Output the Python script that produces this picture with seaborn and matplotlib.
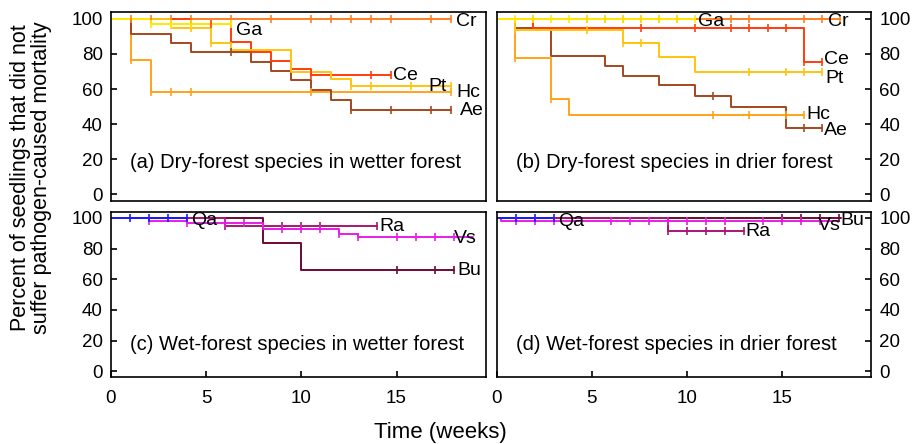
import numpy as np
import pandas as pd
import matplotlib
matplotlib.use('Agg')
import matplotlib.pyplot as plt
import seaborn as sns

# (a) especies de floresta seca na floresta mais umida
A_TEMPOS = {
    'Cr': [0, 17.85],
    'Hc': [0, 1.05, 2.1, 17.85],
    'Ae': [0, 1.05, 3.15, 4.2, 7.35, 8.4, 9.45, 10.5, 11.55, 12.6, 17.85],
    'Ce': [0, 4.2, 6.3, 7.35, 8.4, 9.45, 10.5, 14.7],
    'Pt': [0, 3.15, 5.25, 6.3, 9.45, 11.55, 12.6, 17.85],
    'Ga': [0, 2.1, 6.3],
}
A_SOBREV = {
    'Cr': [100, 100],
    'Hc': [100, 76.5, 58.1, 58.1],
    'Ae': [100, 91.1, 86.2, 81, 75.5, 70.1, 65, 59.2, 53.9, 48.2, 48.2],
    'Ce': [100, 97.2, 86.6, 81, 75.7, 71.6, 68.2, 68.2],
    'Pt': [100, 94.5, 86.2, 82.2, 69.7, 65.7, 61.5, 61.5],
    'Ga': [100, 97.2, 97.2],
}
A_CENS = {
    'Cr': [1.05, 2.1, 3.15, 4.2, 6.3, 8.4, 10.5, 11.55, 12.6, 13.65, 14.7, 16.8, 17.85],
    'Hc': [1.05, 2.1, 3.15, 4.2, 10.5, 17.85],
    'Ae': [6.3, 12.6, 14.7, 16.8, 17.85],
    'Ce': [4.2, 5.25, 10.5, 13.65, 14.7],
    'Pt': [4.2, 5.25, 12.6, 13.65, 15.75, 17.85],
    'Ga': [2.1, 3.15, 4.2, 6.3],
}

# (b) especies de floresta seca na floresta mais seca
B_TEMPOS = {
    'Cr': [0, 18.05],
    'Hc': [0, 0.95, 2.85, 3.8, 16.15],
    'Ae': [0, 0.95, 2.85, 5.7, 6.65, 8.55, 10.45, 12.35, 15.2, 17.1],
    'Ce': [0, 1.9, 16.15, 17.1],
    'Pt': [0, 0.95, 6.65, 8.55, 10.45, 17.1],
    'Ga': [0, 10.45],
}
B_SOBREV = {
    'Cr': [100, 100],
    'Hc': [100, 77.5, 54.4, 45.3, 45.3],
    'Ae': [100, 94.5, 79, 73.3, 67.6, 62, 56.1, 50, 37.7, 37.7],
    'Ce': [100, 94.5, 75.6, 75.6],
    'Pt': [100, 93.6, 86.4, 78, 69.5, 69.5],
    'Ga': [100, 100],
}
B_CENS = {
    'Cr': [1.9, 4.75, 5.7, 6.65, 7.6, 8.55, 9.5, 12.35, 13.3, 16.15, 17.1, 18.05],
    'Hc': [0.95, 2.85, 11.4, 13.3, 15.2, 16.15],
    'Ae': [11.4, 16.15, 17.1],
    'Ce': [7.6, 10.45, 12.35, 13.3, 14.25, 15.2, 16.15, 17.1],
    'Pt': [0.95, 4.75, 6.65, 7.6, 13.3, 15.2, 16.15, 17.1],
    'Ga': [0.95, 1.9, 2.85, 3.8, 4.75, 5.7, 6.65, 7.6, 8.55, 9.5, 10.45],
}

# (c) especies de floresta umida na floresta mais umida
C_TEMPOS = {
    'Bu': [0, 8, 10, 18],
    'Ra': [0, 6, 14],
    'Vs': [0, 2, 4, 8, 12, 13, 19],
    'Qa': [0, 4],
}
C_SOBREV = {
    'Bu': [100, 83.5, 66.3, 66.3],
    'Ra': [100, 94.8, 94.8],
    'Vs': [100, 98.2, 96.5, 92.8, 89.6, 87.4, 87.4],
    'Qa': [100, 100],
}
C_CENS = {
    'Bu': [15, 17, 18],
    'Ra': [6, 9, 10, 11, 14],
    'Vs': [2, 4, 6, 7, 9, 10, 11, 12, 13, 15, 16, 17, 18],
    'Qa': [1, 2, 3, 4],
}

# (d) especies de floresta umida na floresta mais seca
D_TEMPOS = {
    'Bu': [0, 18.1],
    'Ra': [0, 9, 13],
    'Vs': [0, 0.2, 18],
    'Qa': [0, 3],
}
D_SOBREV = {
    'Bu': [100, 100],
    'Ra': [100, 91.7, 91.7],
    'Vs': [100, 98.2, 98.2],
    'Qa': [100, 100],
}
D_CENS = {
    'Bu': [15, 16, 17, 18],
    'Ra': [9, 10, 11, 12, 13],
    'Vs': [1, 2, 3, 6, 7, 8, 9, 10, 11, 12, 14, 15, 16, 17],
    'Qa': [1, 2, 3],
}

TITULOS = ['(a) Dry-forest species in wetter forest',
           '(b) Dry-forest species in drier forest',
           '(c) Wet-forest species in wetter forest',
           '(d) Wet-forest species in drier forest']

CORES = {
    'Cr': '#ff7f24', 'Hc': '#ffa31a', 'Ae': '#a3481f', 'Ce': '#ff3d0d',
    'Pt': '#ffc40c', 'Ga': '#ffea00',
    'Bu': '#6e0a32', 'Ra': '#a8176e', 'Vs': '#e61ee6', 'Qa': '#1a1aff',
}

# posicao dos rotulos das especies (coordenadas dos dados)
ROTULOS = [
    {'Cr': (18.1, 98.3), 'Ga': (6.56, 93.5), 'Ce': (14.8, 67.4),
     'Pt': (16.65, 61.5), 'Hc': (18.15, 57.8), 'Ae': (18.35, 47.6)},
    {'Ga': (10.6, 98.4), 'Cr': (17.45, 98.2), 'Ce': (17.2, 77),
     'Pt': (17.3, 66.2), 'Hc': (16.3, 45.3), 'Ae': (17.2, 36.2)},
    {'Qa': (4.23, 98.2), 'Ra': (14.1, 94.5), 'Vs': (18.0, 86.8), 'Bu': (18.2, 65.7)},
    {'Qa': (3.2, 97.3), 'Ra': (13.1, 90.8), 'Vs': (16.9, 94.7), 'Bu': (18.1, 98.2)},
]


def nivel(tempos, sobrev, c):
    i = np.searchsorted(tempos, c, side='right') - 1
    return sobrev[min(i, len(sobrev) - 1)]


def desenhar(ax, tempos, sobrev, cens):
    for sp in tempos:
        df = pd.DataFrame({'t': tempos[sp], 'pct': sobrev[sp]})
        sns.lineplot(data=df, x='t', y='pct', ax=ax, color=CORES[sp], lw=1.4,
                     drawstyle='steps-post', estimator=None, sort=False)
        cy = [nivel(tempos[sp], sobrev[sp], c) for c in cens[sp]]
        sns.scatterplot(x=cens[sp], y=cy, ax=ax, color=CORES[sp], marker='|',
                        s=28, linewidth=1.2, zorder=3)


sns.set_style('ticks')
plt.rcParams['font.family'] = ['Liberation Sans', 'DejaVu Sans']
plt.rcParams['axes.edgecolor'] = 'black'
plt.rcParams['axes.linewidth'] = 1.2
plt.rcParams['text.color'] = 'black'
plt.rcParams['xtick.color'] = 'black'
plt.rcParams['ytick.color'] = 'black'

fig = plt.figure(figsize=(9.14, 4.44), dpi=100)
W, H = 914, 444
caixas = [(111, 12, 486, 201), (497, 12, 871, 201),
          (111, 212, 486, 377), (497, 212, 871, 377)]
dados = [(A_TEMPOS, A_SOBREV, A_CENS), (B_TEMPOS, B_SOBREV, B_CENS),
         (C_TEMPOS, C_SOBREV, C_CENS), (D_TEMPOS, D_SOBREV, D_CENS)]

for k, ((x0, y0, x1, y1), (tp, sv, cs)) in enumerate(zip(caixas, dados)):
    ax = fig.add_axes([x0 / W, 1 - y1 / H, (x1 - x0) / W, (y1 - y0) / H])
    desenhar(ax, tp, sv, cs)
    ax.set_xlim(0, 19.7)
    ax.set_ylim(-3.7, 103.8)
    ax.set_xticks([0, 5, 10, 15])
    ax.set_yticks([0, 20, 40, 60, 80, 100])
    ax.set_xlabel('')
    ax.set_ylabel('')
    direita = k % 2 == 1
    baixo = k >= 2
    ax.tick_params(axis='y', direction='in', length=4, width=1.2, labelsize=13.5,
                   left=not direita, right=direita,
                   labelleft=not direita, labelright=direita, pad=6)
    ax.tick_params(axis='x', direction='in', length=4, width=1.2, labelsize=13.5,
                   bottom=baixo, labelbottom=baixo, top=False, pad=9)
    for sp, (lx, ly) in ROTULOS[k].items():
        ax.text(lx, ly, sp, fontsize=14, ha='left', va='center')
    ax.text(0.98, 18 if k < 2 else 17.5, TITULOS[k], fontsize=14.5,
            ha='left', va='center')

fig.text(31 / W, 1 - 178 / H,
         'Percent of seedlings that did not\nsuffer pathogen-caused mortality',
         rotation=90, ha='center', va='center', fontsize=15.5, linespacing=1.05)
fig.text(440 / W, 1 - 432 / H, 'Time (weeks)', ha='center', va='center',
         fontsize=16)

fig.savefig('out.png', dpi=100)
